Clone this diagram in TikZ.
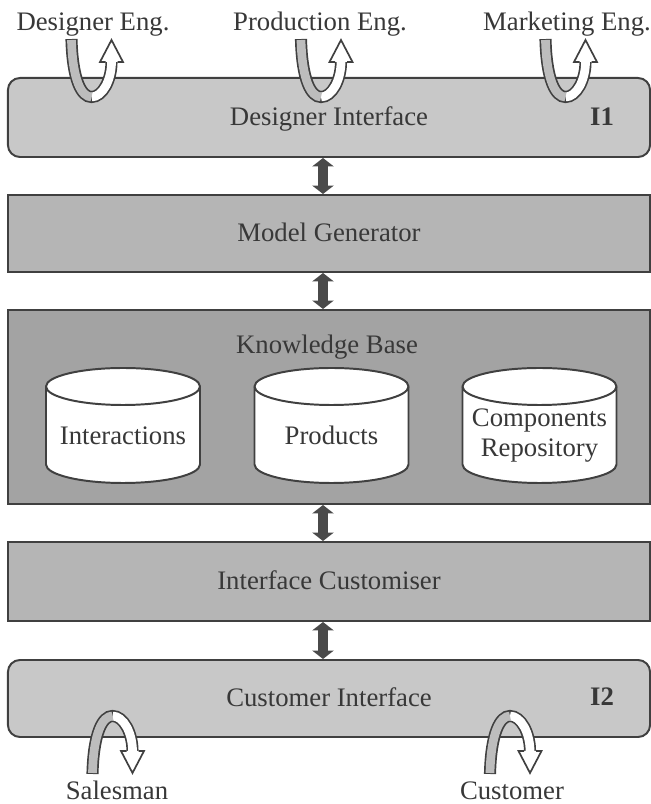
\documentclass[tikz,border=0pt]{standalone}
\usepackage{fontspec}
\setmainfont{Liberation Serif}
\usetikzlibrary{arrows.meta}
\definecolor{ink}{HTML}{383838}
\definecolor{edge}{HTML}{404040}
\definecolor{lightbox}{HTML}{C8C8C8}
\definecolor{midbox}{HTML}{B5B5B5}
\definecolor{darkbox}{HTML}{A3A3A3}
\definecolor{stripgray}{HTML}{BDBDBD}
\definecolor{linkgray}{HTML}{4A4A4A}
\tikzset{layer/.style={draw=edge, line width=1.4pt, minimum width=16.05cm, text=ink, font=\fontsize{19}{23}\selectfont, inner sep=0pt, text height=13pt, text depth=2pt}}
\tikzset{iface/.style={layer, fill=lightbox, rounded corners=0.3cm}}
\tikzset{lbl/.style={text=ink, font=\fontsize{19}{21.5}\selectfont, inner sep=0pt}}
\tikzset{link/.style={draw=linkgray, line width=7pt, {Triangle[length=6pt,width=15pt]}-{Triangle[length=6pt,width=15pt]}}}
\tikzset{store/.style={draw=edge, line width=1.4pt, fill=white}}
\tikzset{ribbon/.style={draw=edge, line width=8.6pt}}
\tikzset{ribbonin/.style={line width=6.2pt}}
\tikzset{headline/.style={draw=edge, line width=1.2pt, fill=white, line join=miter}}

\begin{document}
\begin{tikzpicture}[x=0.025cm,y=0.025cm]
                \fill[white] (0,0) rectangle (651,804);
                \useasboundingbox (0,0) rectangle (651,804);
                % layers
                \node[iface] (di) at (329,686.5) [minimum height=1.975cm] {Designer Interface};
                \node[layer, fill=midbox] (mg) at (329,570.5) [minimum height=1.925cm] {Model Generator};
                \node[layer, fill=darkbox] (kb) at (329,397) [minimum height=4.85cm] {};
                \node[layer, fill=midbox] (ic) at (329,222.5) [minimum height=1.975cm] {Interface Customiser};
                \node[iface] (ci) at (329,105.5) [minimum height=1.925cm] {Customer Interface};
                \node[lbl, font=\fontsize{19}{23}\bfseries] (ione) at (602,687) {I1};
                \node[lbl, font=\fontsize{19}{23}\bfseries] (itwo) at (602,107) {I2};
                \node[lbl] (kbt) at (327,457) {Knowledge Base};
                % stores
                \foreach \cx in {123,331.5,539.5} {
                    \draw[store] (\cx-77,417.5) -- (\cx-77,339.5) arc[start angle=180,end angle=360,x radius=77,y radius=18.5] -- (\cx+77,417.5) arc[start angle=0,end angle=180,x radius=77,y radius=18.5] -- cycle;
                    \draw[store, fill=none] (\cx-77,417.5) arc[start angle=180,end angle=360,x radius=77,y radius=18.5];
                }
                \node[lbl, anchor=base] (inter) at (123,359) {Interactions};
                \node[lbl, anchor=base] (prod) at (331.5,359) {Products};
                \node[lbl, anchor=base, align=center] (comp) at (539.5,347) {Components\\Repository};
                % links
                \draw[link] ([xshift=-0.15cm]di.south) -- ([xshift=-0.15cm]mg.north);
                \draw[link] ([xshift=-0.15cm]mg.south) -- ([xshift=-0.15cm]kb.north);
                \draw[link] ([xshift=-0.15cm]kb.south) -- ([xshift=-0.15cm]ic.north);
                \draw[link] ([xshift=-0.15cm]ic.south) -- ([xshift=-0.15cm]ci.north);
                % users
                \node[lbl, anchor=base] (deng) at (93,773) {Designer Eng.};
                \node[lbl, anchor=base] (peng) at (320,773) {Production Eng.};
                \node[lbl, anchor=base] (meng) at (567,773) {Marketing Eng.};
                \node[lbl, anchor=base] (sales) at (117,5) {Salesman};
                \node[lbl, anchor=base] (cust) at (512,5) {Customer};
                % loops
                \foreach \dx/\ox/\oy/\sy in {0/71.5/764/1, 229.5/71.5/764/1, 474/71.5/764/1, 0/92.5/31/-1, 397.5/92.5/31/-1} {
                    \begin{scope}[shift={(\ox+\dx,\oy)}, yscale=\sy]
                        \draw[ribbon, shorten <=-0.7pt] (0,0) .. controls (1,-40) and (10,-57) .. (20,-57) .. controls (31,-57) and (40,-40) .. (40,-22);
                        \filldraw[headline] (34,-22) -- (28.5,-22) -- (40,0) -- (51.5,-22) -- (46,-22);
                        \draw[ribbonin, white] (20,-57) .. controls (31,-57) and (40,-40) .. (40,-22);
                        \draw[ribbonin, stripgray] (0,0) .. controls (1,-40) and (10,-57) .. (20,-57);
                    \end{scope}
                }
\end{tikzpicture}
\end{document}
